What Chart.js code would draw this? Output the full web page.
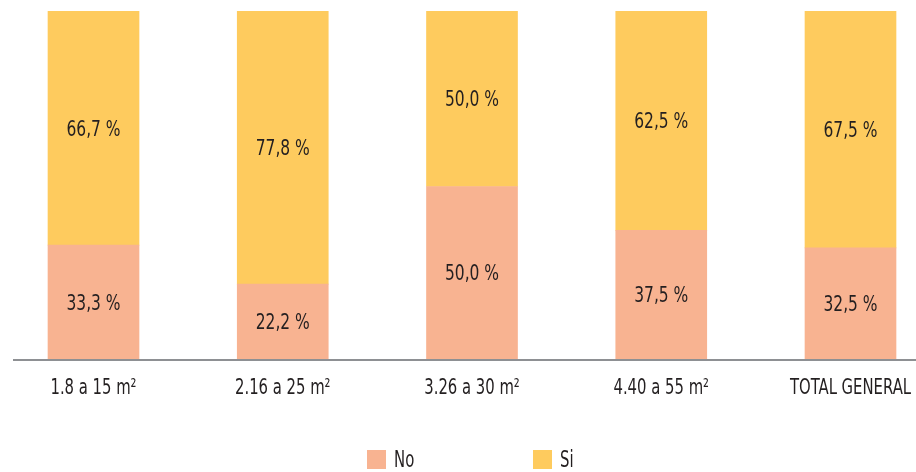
<!DOCTYPE html>
<html>
<head>
<meta charset="utf-8">
<script src="https://cdn.jsdelivr.net/npm/chart.js@4/dist/chart.umd.min.js"></script>
<style>
  html, body { margin: 0; padding: 0; background: #ffffff; }
  #wrap { position: relative; width: 916px; height: 472px; }
</style>
</head>
<body>
<div id="wrap"><canvas id="chart"></canvas></div>
<script>
// Superficie de la vivienda vs. respuesta (porcentajes)
const categories = ['1.8 a 15 m\u00B2', '2.16 a 25 m\u00B2', '3.26 a 30 m\u00B2', '4.40 a 55 m\u00B2', 'TOTAL GENERAL'];
const seriesNames = ['No', 'Si'];
const noValues = [33.3, 22.2, 50.0, 37.5, 32.5];
const siValues = [66.7, 77.8, 50.0, 62.5, 67.5];

const COLOR_NO = '#F8B391';
const COLOR_SI = '#FECB5E';
const TEXT = '#231F20';
const FONT = "'DejaVu Sans Condensed', 'DejaVu Sans', sans-serif";

const toPoints = vals => vals.map((v, i) => ({ x: i, y: v }));
const fmt = v => v.toFixed(1).replace('.', ',') + ' %';

// draws text squeezed horizontally to get a condensed look
function narrowText(ctx, text, x, y, squeeze) {
  ctx.save();
  ctx.translate(x, y);
  ctx.scale(squeeze, 1);
  ctx.fillText(text, 0, 0);
  ctx.restore();
}

// value text in the middle of each stacked segment
const segmentLabels = {
  id: 'segmentLabels',
  afterDatasetsDraw(chart) {
    const ctx = chart.ctx;
    const axisY = chart.chartArea.bottom - 3;
    ctx.save();
    ctx.font = '21px ' + FONT;
    ctx.fillStyle = TEXT;
    ctx.textAlign = 'center';
    ctx.textBaseline = 'middle';
    chart.data.datasets.forEach((ds, di) => {
      const meta = chart.getDatasetMeta(di);
      meta.data.forEach((bar, i) => {
        const bottom = Math.min(bar.base, axisY);
        narrowText(ctx, fmt(ds.data[i].y), bar.x, (bar.y + bottom) / 2 + 2, 0.82);
      });
    });
    ctx.restore();
  }
};

// baseline of the category axis and its labels
const categoryAxis = {
  id: 'categoryAxis',
  afterDatasetsDraw(chart) {
    const { ctx, chartArea } = chart;
    const xScale = chart.scales.x;
    ctx.save();
    ctx.strokeStyle = '#8E9093';
    ctx.lineWidth = 2;
    ctx.beginPath();
    ctx.moveTo(chartArea.left, chartArea.bottom - 2);
    ctx.lineTo(chartArea.right, chartArea.bottom - 2);
    ctx.stroke();

    ctx.font = '22px ' + FONT;
    ctx.fillStyle = TEXT;
    ctx.textAlign = 'center';
    ctx.textBaseline = 'middle';
    xScale.ticks.forEach(t => {
      narrowText(ctx, categories[t.value], xScale.getPixelForValue(t.value), chartArea.bottom + 26, 0.75);
    });
    ctx.restore();
  }
};

// legend row under the axis
const bottomLegend = {
  id: 'bottomLegend',
  afterDraw(chart) {
    const ctx = chart.ctx;
    const startX = 367, stepX = 166, boxY = 450, box = 19;
    ctx.save();
    ctx.font = '23px ' + FONT;
    ctx.textBaseline = 'middle';
    ctx.textAlign = 'left';
    chart.data.datasets.forEach((ds, i) => {
      const x = startX + i * stepX;
      ctx.fillStyle = ds.backgroundColor;
      ctx.fillRect(x, boxY, box, box);
      ctx.fillStyle = TEXT;
      narrowText(ctx, ds.label, x + box + 8, boxY + box / 2 + 2, 0.72);
    });
    ctx.restore();
  }
};

const clipBelowAxis = { left: false, right: false, top: 0, bottom: -3 };

new Chart(document.getElementById('chart'), {
  type: 'bar',
  data: {
    datasets: [
      { label: seriesNames[0], data: toPoints(noValues), backgroundColor: COLOR_NO, barThickness: 91, clip: clipBelowAxis },
      { label: seriesNames[1], data: toPoints(siValues), backgroundColor: COLOR_SI, barThickness: 91, clip: clipBelowAxis }
    ]
  },
  options: {
    responsive: true,
    maintainAspectRatio: false,
    animation: false,
    layout: { padding: { left: 13, right: 0, top: 11, bottom: 0 } },
    plugins: {
      legend: { display: false },
      tooltip: { enabled: false }
    },
    scales: {
      x: {
        type: 'linear',
        stacked: true,
        offset: false,
        min: -0.4254,
        max: 4.3461,
        grid: { display: false, drawTicks: false },
        border: { display: false },
        afterBuildTicks(axis) {
          axis.ticks = categories.map((_, i) => ({ value: i }));
        },
        afterFit(axis) { axis.height = 110; },
        ticks: { display: false }
      },
      y: {
        stacked: true,
        display: false,
        min: 0,
        max: 100
      }
    }
  },
  plugins: [segmentLabels, categoryAxis, bottomLegend]
});
</script>
</body>
</html>
